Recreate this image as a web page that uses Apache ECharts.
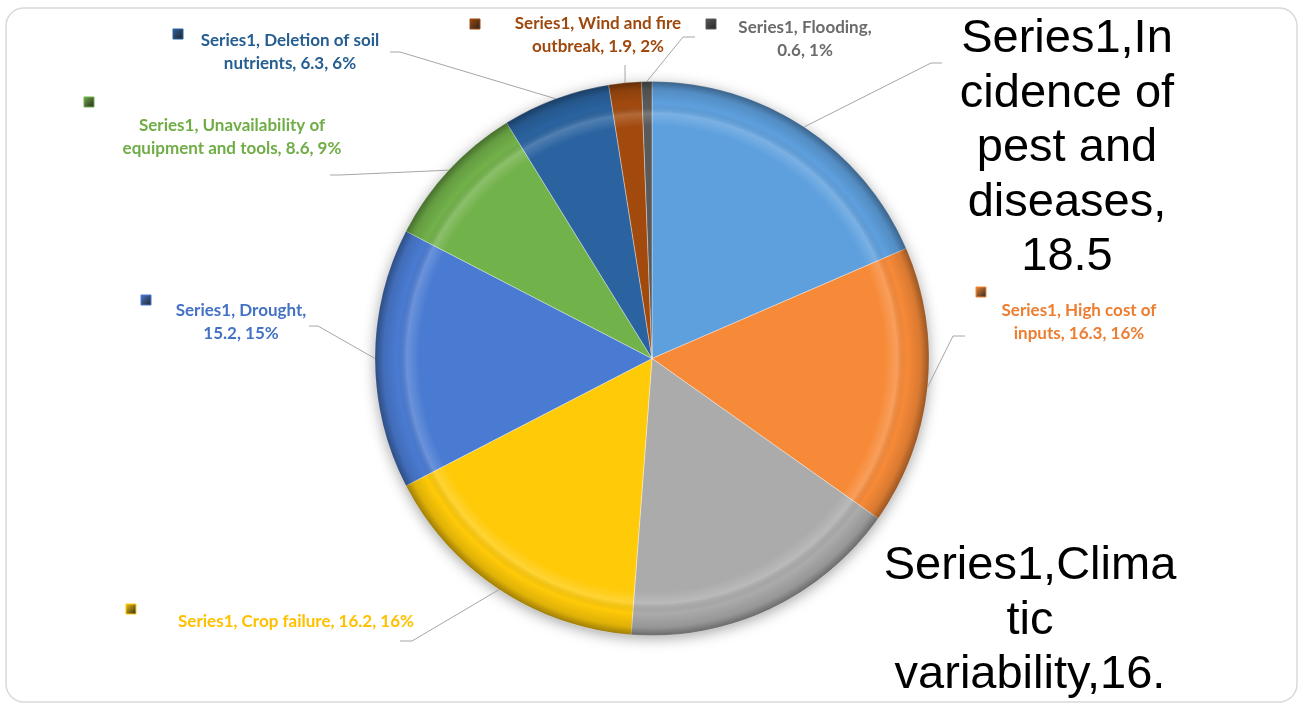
<!DOCTYPE html>
<html><head><meta charset="utf-8">
<script src="https://cdn.jsdelivr.net/npm/echarts@6/dist/echarts.min.js"></script>
<style>html,body{margin:0;padding:0;background:#fff}#c{width:1303px;height:704px}</style>
</head><body><div id="c"></div>
<script>
// ---- data ----
const seriesName = 'Series1';
const categories = ['Incidence of pest and diseases','High cost of inputs','Climatic variability','Crop failure','Drought','Unavailability of equipment and tools','Deletion of soil nutrients','Wind and fire outbreak','Flooding'];
const values = [18.5,16.3,16.4,16.2,15.2,8.6,6.3,1.9,0.6];
// ---- styles ----
const sliceColors = ['#5EA0DE','#F78A38','#ABABAB','#FFCA08','#4A7BD2','#72B24A','#2A63A0','#A24A0E','#5A5A5A'];
const labelColors = ['#000000','#ED7D31','#000000','#FFC000','#4472C4','#70AD47','#255E91','#9E480E','#6B6B6B'];
const bigLabel = [true,false,true,false,false,false,false,false,false];
// ---- layout ----
const labelLineLengths = [[10,10,8,9],[21],[13,3,15],[],[17],[26],[25],[22],[18]];
const labelPos = [[1067,148.5],[1079,322],[1030,648],[296,622],[241,322],[232,137],[290,52],[598,35],[805,39]];
const leaderPts = [[[931,63],[942,63]],[[953,336],[965,336]],null,[[412,641],[400,641]],[[318,326],[309,326]],[[340,175],[330,175]],[[400,52],[390,52]],[[625,65]],[[683,37],[695,37]]];
const keyPos = [null,[976,287],null,[126,604],[141,295],[84,97],[173,29],[470,19],[706,19]];
const CX = 652, CY = 358.5, R = 277;

const total = values.reduce((a,b)=>a+b,0);
function wrapByCounts(text, counts){
  const out=[]; let rest=text;
  for(const n of counts){ out.push(rest.slice(0,n)); rest=rest.slice(n).replace(/^ +/,''); }
  if(rest) out.push(rest);
  return out.join('\n');
}
function labelText(i){
  const pct = Math.round(values[i]/total*100);
  const t = bigLabel[i] ? `${seriesName},${categories[i]},${values[i]}`
                        : `${seriesName}, ${categories[i]}, ${values[i]}, ${pct}%`;
  return wrapByCounts(t, labelLineLengths[i]);
}

const data = categories.map((name,i)=>({
  name, value: values[i],
  itemStyle:{color: sliceColors[i]},
  label: bigLabel[i]
    ? {color:'#000', fontFamily:'Liberation Sans, Arial, sans-serif', fontSize:47, fontWeight:'normal', lineHeight:54.5}
    : {color: labelColors[i], fontFamily:'Lato, sans-serif', fontSize:17, fontWeight:'bold', lineHeight:23},
  labelLine: {show: leaderPts[i] != null}
}));

const graphics = [{
  type:'rect', z:-10, silent:true,
  shape:{x:6,y:8,width:1291,height:694,r:18},
  style:{fill:'#fff', stroke:'#D9D9D9', lineWidth:1.5}
}];
keyPos.forEach((p,i)=>{
  if(!p) return;
  graphics.push({type:'rect', z:10, silent:true, shape:{x:p[0],y:p[1],width:10,height:10},
    style:{fill:{type:'linear',x:0,y:0,x2:1,y2:1,colorStops:[{offset:0,color:sliceColors[i]},{offset:1,color:'#222'}]}, stroke:sliceColors[i], lineWidth:1}});
});

const chart = echarts.init(document.getElementById('c'));
chart.setOption({
  animation:false,
  backgroundColor:'#fff',
  graphic: graphics,
  series:[
    { type:'pie', silent:true, z:1, center:[CX,CY], radius:R, startAngle:90,
      label:{show:false}, labelLine:{show:false},
      itemStyle:{color:'#fff', shadowBlur:14, shadowOffsetY:3, shadowColor:'rgba(0,0,0,0.35)'},
      data:[{value:1}] },
    { type:'pie', name:seriesName, z:2, center:[CX,CY], radius:R, startAngle:90, clockwise:true,
      avoidLabelOverlap:false,
      itemStyle:{borderColor:'rgba(255,255,255,0.35)', borderWidth:1},
      label:{show:true, position:'outside', align:'center', formatter:p=>labelText(p.dataIndex)},
      labelLine:{show:true, length:10, length2:10, lineStyle:{color:'#A6A6A6', width:1}},
      labelLayout: function(params){
        const i = params.dataIndex;
        const res = {x: labelPos[i][0], y: labelPos[i][1], align:'center', verticalAlign:'middle'};
        if (leaderPts[i] && params.labelLinePoints) {
          res.labelLinePoints = [params.labelLinePoints[0]].concat(leaderPts[i]);
        }
        return res;
      },
      data },
    { type:'pie', silent:true, z:3, center:[CX,CY], radius:R, startAngle:90,
      label:{show:false}, labelLine:{show:false},
      itemStyle:{color:{type:'radial',x:0.5,y:0.5,r:0.5,colorStops:[
        {offset:0,color:'rgba(255,255,255,0)'},
        {offset:0.84,color:'rgba(255,255,255,0)'},
        {offset:0.885,color:'rgba(255,255,255,0.18)'},
        {offset:0.92,color:'rgba(0,0,0,0)'},
        {offset:0.97,color:'rgba(0,0,0,0.12)'},
        {offset:1,color:'rgba(0,0,0,0.38)'}]}},
      data:[{value:1}] }
  ]
});
</script></body></html>
